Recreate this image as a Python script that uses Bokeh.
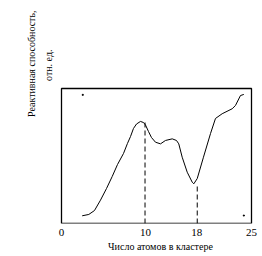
from bokeh.plotting import figure
from bokeh.models import Range1d, FixedTicker, Title
from bokeh.embed import file_html
from bokeh.resources import INLINE

# x in axis-position units (axis is drawn non-uniformly; labels placed at read positions)
curve_x = [2.72, 3.59, 4.34, 5.13, 5.92, 6.67, 7.37, 8.16, 8.68, 9.08, 9.47, 9.87,
           10.39, 10.79, 11.05, 11.45, 11.84, 12.37, 13.03, 13.68, 14.57, 15.13, 15.43,
           15.88, 16.54, 17.20, 17.41, 17.86, 18.68, 19.61, 20.26, 21.14, 22.46, 22.89,
           23.55, 23.99]
curve_y = [5.7, 6.7, 9.6, 17.3, 25.9, 34.8, 43.7, 51.9, 59.3, 64.4, 70.4, 73.7,
           75.6, 74.8, 73.0, 68.1, 63.7, 60.2, 59.0, 61.5, 62.7, 61.5, 59.0,
           49.1, 38.0, 30.6, 29.4, 33.3, 49.1, 66.7, 77.8, 81.3, 85.0, 87.4,
           94.8, 95.6]
tick_pos = [0, 11.05, 17.8, 25]
tick_labels = ["0", "10", "18", "25"]
dash_x = [10.99, 17.86]
dash_top = [76.0, 28.0]
dot_x = [2.8, 23.99]
dot_y = [95.3, 5.9]
y_title = ["Реактивная способность,", "отн. ед."]

FONT = "Liberation Serif"
PX_X = 7.6   # pixels per x unit
PX_Y = 1.35  # pixels per y unit
LEFT = 58

p = figure(width=262, height=256, output_backend="svg", toolbar_location=None,
           x_range=Range1d(-(61 - LEFT) / PX_X, (262 - 61) / PX_X),
           y_range=Range1d(0, 223 / PX_Y),
           min_border_left=LEFT, min_border_right=0, min_border_top=0, min_border_bottom=33)
p.background_fill_color = "white"
p.border_fill_color = "white"
p.outline_line_color = None
p.xgrid.visible = False
p.ygrid.visible = False
p.yaxis.visible = False

ax = p.xaxis[0]
ax.ticker = FixedTicker(ticks=tick_pos)
ax.major_label_overrides = {t: l for t, l in zip(tick_pos, tick_labels)}
ax.axis_line_color = None
ax.major_tick_line_color = None
ax.minor_tick_line_color = None
ax.major_tick_out = 0
ax.major_tick_in = 0
ax.major_label_standoff = 5
ax.major_label_text_font = FONT
ax.major_label_text_font_size = "11px"
ax.major_label_text_color = "black"
ax.axis_label = "Число атомов в кластере"
ax.axis_label_text_font = FONT
ax.axis_label_text_font_style = "normal"
ax.axis_label_text_font_size = "10px"
ax.axis_label_text_color = "black"
ax.axis_label_standoff = 2

# plot box
p.quad(left=[0], right=[25], bottom=[0], top=[100], fill_color=None,
       line_color="black", line_width=1.3)

p.line(curve_x, curve_y, line_color="black", line_width=1)
p.segment(x0=dash_x, y0=[0, 0], x1=dash_x, y1=dash_top, line_color="black",
          line_width=1, line_dash="5 3")
p.scatter(dot_x, dot_y, marker="square", size=1, color="black")

# y titles: second line nearest the frame
p.add_layout(Title(text=y_title[1], align="right", offset=49, standoff=8,
                   vertical_align="middle", text_font=FONT, text_font_size="10px",
                   text_font_style="normal", text_color="black"), "left")
p.add_layout(Title(text=y_title[0], align="right", offset=10, standoff=0,
                   vertical_align="middle", text_font=FONT, text_font_size="10px",
                   text_font_style="normal", text_color="black"), "left")

open("out.html", "w").write(file_html(p, INLINE))
